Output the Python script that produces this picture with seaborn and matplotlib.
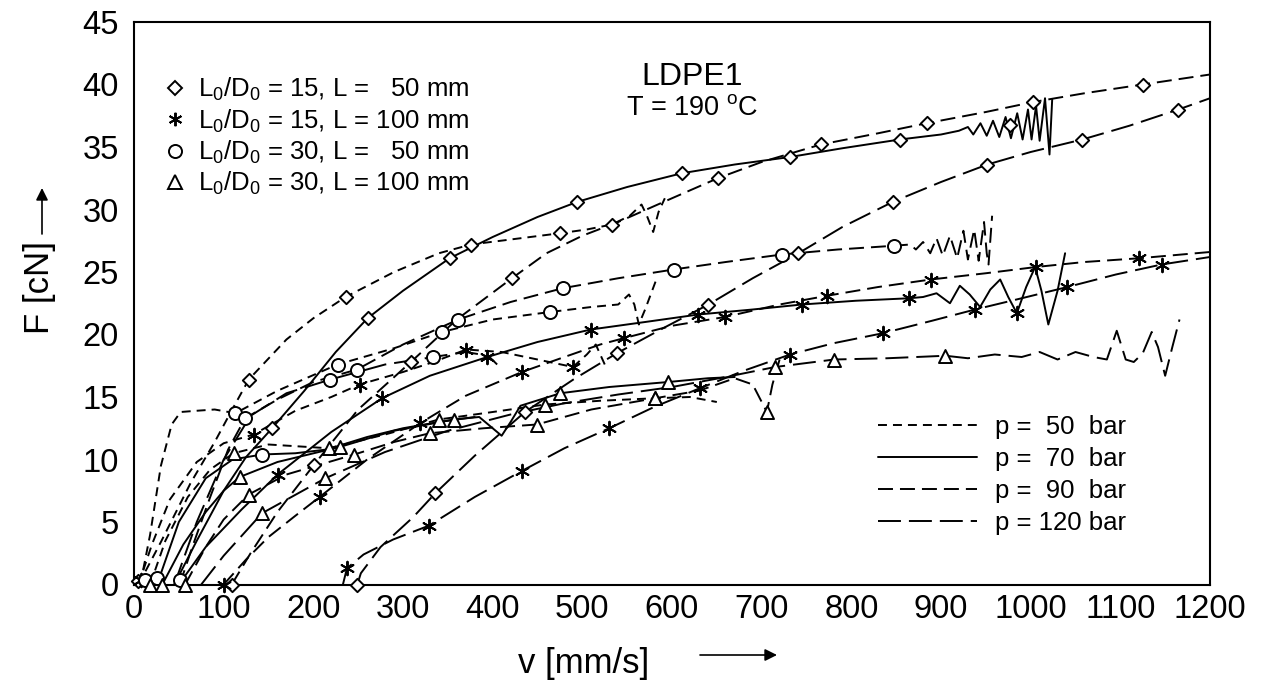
import numpy as np
import pandas as pd
import seaborn as sns
import matplotlib
matplotlib.use("Agg")
import matplotlib.pyplot as plt
from matplotlib.lines import Line2D
from matplotlib.ticker import MultipleLocator

# ---------------- data ----------------
# Diamonds: L0/D0 = 15, L = 50 mm
d50_v = [5, 30, 63, 90, 108, 128, 170, 200, 236, 290, 340, 375.8, 420, 475, 505, 533, 553, 566, 572, 579, 585, 592]
d50_f = [0, 3.4, 8.1, 11.4, 13.8, 16.4, 19.6, 21.3, 23.0, 25.0, 26.5, 27.2, 27.6, 28.1, 28.4, 28.8, 29.5, 30.4, 29.5, 28.2, 29.8, 30.9]
d50_mv = [5, 128, 236, 375.8, 475, 533]
d50_mf = [0.3, 16.4, 23.0, 27.2, 28.1, 28.8]

d70_v = [45, 70, 100, 125, 154, 190, 225, 260.5, 300, 352, 400, 450, 494, 550, 611, 670, 731.7, 790, 854, 900, 920,
         930, 936, 944, 951, 958, 965, 972, 978, 985, 991, 997, 1001, 1006, 1010, 1016, 1021, 1024]
d70_f = [0, 3.5, 7.5, 10.2, 12.5, 15.5, 18.6, 21.3, 23.5, 26.1, 27.8, 29.4, 30.6, 31.8, 32.9, 33.6, 34.2, 34.9, 35.6, 36.0, 36.3,
         36.6, 36.0, 36.9, 35.9, 37.1, 35.8, 37.4, 35.7, 37.7, 35.6, 38.0, 35.6, 38.3, 35.5, 38.9, 34.4, 38.8]
d70_mv = [154, 260.5, 352, 494, 611, 731.7, 854, 977]
d70_mf = [12.5, 21.3, 26.1, 30.6, 32.9, 34.2, 35.6, 36.8]

d90_v = [109, 130, 160, 201, 250, 308.8, 360, 421.5, 460, 500, 540, 600, 651, 700, 766, 830, 884, 950, 1003, 1060, 1125, 1200]
d90_f = [0, 2.5, 5.8, 9.6, 14.0, 17.8, 21.2, 24.5, 26.5, 27.9, 29.0, 30.9, 32.5, 33.8, 35.2, 36.1, 36.9, 37.8, 38.6, 39.3, 40.0, 40.8]
d90_mv = [109, 201, 308.8, 421.5, 651, 766, 884, 1003, 1125]
d90_mf = [0, 9.6, 17.8, 24.5, 32.5, 35.2, 36.9, 38.6, 40.0]

d120_v = [249, 253, 275, 311.5, 336, 380, 436, 490, 538.5, 590, 640.7, 690, 741, 790, 846, 900, 951.7, 1000, 1057.6, 1110, 1164.7, 1200]
d120_f = [0, 0.9, 3.0, 5.4, 7.3, 10.3, 13.8, 16.4, 18.5, 20.5, 22.4, 24.5, 26.5, 28.6, 30.6, 32.2, 33.6, 34.6, 35.6, 36.7, 38.0, 38.9]
d120_mv = [249, 336, 436, 538.5, 640.7, 741, 846, 951.7, 1057.6, 1164.7]
d120_mf = [0, 7.3, 13.8, 18.5, 22.4, 26.5, 30.6, 33.6, 35.6, 38.0]

# Stars: L0/D0 = 15, L = 100 mm
s50_v = [5, 20, 40, 70, 100, 133.4, 180, 220, 251.6, 300, 334, 370.6, 410, 450, 489.5, 505, 515, 525]
s50_f = [0, 3.2, 6.8, 9.8, 11.3, 12.0, 13.9, 15.0, 16.0, 17.0, 17.8, 18.8, 18.6, 18.0, 17.4, 18.4, 19.2, 17.6]
s50_mv = [8, 133.4, 251.6, 370.6, 489.5]
s50_mf = [0.4, 12.0, 16.0, 18.8, 17.4]

s70_v = [50, 80, 120, 160.2, 220, 276.6, 330, 394, 450, 509.5, 570, 629.5, 690, 745, 805, 864.8, 880, 895, 910, 921, 932,
         943.6, 955, 966, 975, 984.6, 995, 1005, 1012, 1019.7, 1030, 1038.4]
s70_f = [0, 3.0, 6.0, 8.8, 12.2, 14.9, 16.7, 18.2, 19.4, 20.4, 21.0, 21.6, 22.0, 22.4, 22.7, 22.9, 23.0, 23.3, 22.5, 23.9, 23.2,
         22.2, 23.6, 24.4, 23.0, 21.7, 23.8, 25.4, 23.5, 20.8, 23.5, 26.5]
s70_mv = [160.2, 276.6, 394, 509.5, 629.5, 745, 864.8, 984.6]
s70_mf = [8.8, 14.9, 18.2, 20.4, 21.6, 22.4, 22.9, 21.7]

s90_v = [100, 125, 150, 180, 207, 260, 319, 370, 432.6, 480, 520, 546, 600, 659, 720, 773, 830, 888.6, 950, 1006, 1060, 1121, 1200]
s90_f = [0, 2.0, 3.8, 5.5, 7.0, 10.0, 12.9, 15.1, 17.0, 18.2, 19.2, 19.7, 20.7, 21.4, 22.4, 23.1, 23.8, 24.4, 24.9, 25.4, 25.8, 26.1, 26.6]
s90_mv = [100, 207, 319, 432.6, 546, 659, 773, 888.6, 1006, 1121]
s90_mf = [0, 7.0, 12.9, 17.0, 19.7, 21.4, 23.1, 24.4, 25.4, 26.1]

s120_v = [233, 237.5, 256, 289, 328.6, 380, 433, 480, 530, 580, 631, 680, 731.7, 780, 835, 890, 938, 990, 1041, 1095, 1146, 1200]
s120_f = [0, 1.3, 2.4, 3.6, 4.7, 7.0, 9.1, 10.9, 12.5, 14.2, 15.7, 17.1, 18.4, 19.3, 20.1, 21.1, 22.0, 22.9, 23.8, 24.8, 25.6, 26.2]
s120_mv = [237.5, 328.6, 433, 530, 631, 731.7, 835, 938, 1041, 1146]
s120_mf = [1.3, 4.7, 9.1, 12.5, 15.7, 18.4, 20.1, 22.0, 23.8, 25.6]

# Circles: L0/D0 = 30, L = 50 mm
c50_v = [7, 18, 30, 42, 52, 70, 90, 113, 160, 227, 290, 343.5, 400, 464, 510, 540, 552, 558, 563, 570, 582]
c50_f = [0, 4, 9.5, 12.8, 13.8, 13.9, 14.0, 13.7, 15.5, 17.6, 18.9, 20.2, 21.2, 21.8, 22.2, 22.4, 23.2, 22.4, 20.8, 22.0, 24.3]
c50_mv = [12, 113, 227, 343.5, 464]
c50_mf = [0.4, 13.7, 17.6, 20.2, 21.8]

c70_v = [25.7, 50, 80, 110, 142.8, 180, 215, 260, 300, 340, 380]
c70_f = [0, 5, 8.5, 10.0, 10.4, 10.5, 10.8, 11.8, 12.5, 13.0, 13.4]
c70_mv = [25.7, 142.8]
c70_mf = [0.5, 10.4]

c90_v = [51, 65, 85, 105, 124, 160, 200, 248.7, 300, 361.6, 420, 478, 540, 601.7, 660, 722.5, 785, 847.6, 865.6,
         872, 880, 888, 895, 902, 910, 918, 925, 930, 937, 942, 948, 951, 953, 957]
c90_f = [0, 3, 7, 10.8, 13.3, 14.8, 16.2, 17.2, 19.2, 21.2, 22.6, 23.7, 24.5, 25.2, 25.8, 26.4, 26.8, 27.1, 27.2,
         26.8, 27.4, 26.5, 27.7, 26.3, 27.9, 26.1, 28.3, 26.0, 28.4, 25.9, 29.0, 26.5, 25.6, 29.5]
c90_mv = [51, 124, 248.7, 361.6, 478, 601.7, 722.5, 847.6]
c90_mf = [0.4, 13.3, 17.2, 21.2, 23.7, 25.2, 26.4, 27.1]

c120_v = [45, 70, 100, 130, 170, 219, 280, 334, 370, 395, 405]
c120_f = [0, 5, 10, 13.5, 15.3, 16.4, 17.6, 18.2, 18.6, 18.3, 17.6]
c120_mv = [219, 334]
c120_mf = [16.4, 18.2]

# Triangles: L0/D0 = 30, L = 100 mm
t50_v = [18, 35, 60, 85, 111, 150, 217, 280, 339.8, 400, 458.6, 520, 581, 620, 650]
t50_f = [0, 3.5, 7, 9.2, 10.5, 11.2, 10.9, 12.0, 13.2, 13.8, 14.4, 14.7, 14.9, 15.0, 14.6]
t50_mv = [18, 111, 217, 339.8, 458.6, 581]
t50_mf = [0, 10.5, 10.9, 13.2, 14.4, 14.9]

t70_v = [31.6, 55, 80, 100, 117.9, 160, 229.3, 290, 356.5, 385, 400, 410, 420, 431, 475.4, 530, 596, 640, 670]
t70_f = [0, 3.2, 5.8, 7.5, 8.6, 9.8, 11.0, 12.3, 13.2, 13.4, 12.5, 11.9, 13.0, 14.3, 15.3, 15.8, 16.2, 16.5, 16.6]
t70_mv = [31.6, 117.9, 229.3, 356.5, 475.4, 596]
t70_mf = [0, 8.6, 11.0, 13.2, 15.3, 16.2]

t90_v = [57, 80, 100, 127.9, 170, 245.7, 290, 329.7, 390, 449.4, 510, 581, 630, 670, 690, 705.8, 712, 720]
t90_f = [0, 3.0, 5.2, 7.2, 8.8, 10.4, 11.4, 12.1, 12.5, 12.8, 14.0, 14.9, 15.5, 16.5, 16.0, 13.8, 16.0, 18.0]
t90_mv = [57, 127.9, 245.7, 329.7, 449.4, 581, 705.8]
t90_mf = [0, 7.2, 10.4, 12.1, 12.8, 14.9, 13.8]

t120_v = [75, 100, 142.8, 213.4, 280, 350, 420, 480, 540, 600, 660, 715, 781, 840, 905, 930, 960, 990, 1010, 1030,
          1050, 1070, 1085, 1096, 1106, 1115, 1125, 1135, 1142, 1150, 1158, 1166]
t120_f = [0, 2.3, 5.7, 8.5, 10.6, 12.3, 13.6, 14.5, 15.2, 15.8, 16.6, 17.4, 18.0, 18.1, 18.3, 18.1, 18.4, 18.2, 18.6, 18.0,
          18.6, 18.2, 18.0, 20.3, 18.0, 17.8, 18.5, 20.2, 19.0, 16.7, 19.0, 21.2]
t120_mv = [142.8, 213.4, 715, 781, 905]
t120_mf = [5.7, 8.5, 17.4, 18.0, 18.3]

series_labels = ["L$_{\\mathregular{0}}$/D$_{\\mathregular{0}}$ = 15, L =   50 mm",
                 "L$_{\\mathregular{0}}$/D$_{\\mathregular{0}}$ = 15, L = 100 mm",
                 "L$_{\\mathregular{0}}$/D$_{\\mathregular{0}}$ = 30, L =   50 mm",
                 "L$_{\\mathregular{0}}$/D$_{\\mathregular{0}}$ = 30, L = 100 mm"]
pressure_labels = ["p =  50  bar", "p =  70  bar", "p =  90  bar", "p = 120 bar"]
x_ticks = list(range(0, 1201, 100))
y_ticks = list(range(0, 46, 5))

# ---------------- styling ----------------
sns.set_theme(style="white")
plt.rcParams["font.family"] = ["Liberation Sans", "DejaVu Sans"]
plt.rcParams["mathtext.fontset"] = "custom"
plt.rcParams["mathtext.rm"] = "Liberation Sans"
plt.rcParams["mathtext.it"] = "Liberation Sans:italic"
for key in ("text.color", "axes.labelcolor", "xtick.color", "ytick.color", "axes.edgecolor"):
    plt.rcParams[key] = "black"

LW = 1.4
styles = {
    50: (0, (4.6, 3.1)),
    70: "-",
    90: (0, (7.7, 3.6)),
    120: (0, (11.8, 4.1)),
}
marker_spec = {
    "D": dict(marker="D", s=46, facecolor="white", edgecolor="black", linewidth=1.4),
    "*": dict(marker=(6, 2, 0), s=95, color="black", linewidth=1.4),
    "o": dict(marker="o", s=88, facecolor="white", edgecolor="black", linewidth=1.4),
    "^": dict(marker="^", s=88, facecolor="white", edgecolor="black", linewidth=1.4),
}

curves = [
    (d50_v, d50_f, d50_mv, d50_mf, 50, "D"),
    (d70_v, d70_f, d70_mv, d70_mf, 70, "D"),
    (d90_v, d90_f, d90_mv, d90_mf, 90, "D"),
    (d120_v, d120_f, d120_mv, d120_mf, 120, "D"),
    (s50_v, s50_f, s50_mv, s50_mf, 50, "*"),
    (s70_v, s70_f, s70_mv, s70_mf, 70, "*"),
    (s90_v, s90_f, s90_mv, s90_mf, 90, "*"),
    (s120_v, s120_f, s120_mv, s120_mf, 120, "*"),
    (c50_v, c50_f, c50_mv, c50_mf, 50, "o"),
    (c70_v, c70_f, c70_mv, c70_mf, 70, "o"),
    (c90_v, c90_f, c90_mv, c90_mf, 90, "o"),
    (c120_v, c120_f, c120_mv, c120_mf, 120, "o"),
    (t50_v, t50_f, t50_mv, t50_mf, 50, "^"),
    (t70_v, t70_f, t70_mv, t70_mf, 70, "^"),
    (t90_v, t90_f, t90_mv, t90_mf, 90, "^"),
    (t120_v, t120_f, t120_mv, t120_mf, 120, "^"),
]

fig = plt.figure(figsize=(12.63, 6.90), dpi=100)
ax = fig.add_axes([134 / 1263, 1 - 584.5 / 690, (1210 - 134) / 1263, (584.5 - 22) / 690])

for v, f, mv, mf, p, mk in curves:
    sns.lineplot(x=v, y=f, ax=ax, color="black", lw=LW, linestyle=styles[p],
                 sort=False, estimator=None, legend=False, zorder=2)
for v, f, mv, mf, p, mk in curves:
    sns.scatterplot(x=mv, y=mf, ax=ax, legend=False, zorder=3, clip_on=False, **marker_spec[mk])

ax.set_xlim(0, 1200)
ax.set_ylim(0, 45)
ax.set_xticks(x_ticks)
ax.set_yticks(y_ticks)
ax.xaxis.set_minor_locator(MultipleLocator(50))
ax.yaxis.set_minor_locator(MultipleLocator(1))
ax.tick_params(axis="both", which="both", direction="in", top=False, right=False,
               colors="black", labelcolor="black")
ax.tick_params(axis="both", which="major", length=12, width=1.2, labelsize=23.5)
ax.tick_params(axis="both", which="minor", length=6.5, width=1.2)
ax.tick_params(axis="x", which="major", pad=7)
ax.tick_params(axis="y", which="major", pad=11)
for sp in ax.spines.values():
    sp.set_visible(True)
    sp.set_color("black")
    sp.set_linewidth(1.5)
ax.set_xlabel("")
ax.set_ylabel("")

# legends
h1 = [Line2D([], [], ls="none", marker="D", markersize=6.8, markerfacecolor="white",
             markeredgecolor="black", markeredgewidth=1.4),
      Line2D([], [], ls="none", marker=(6, 2, 0), markersize=9.7, color="black", markeredgewidth=1.4),
      Line2D([], [], ls="none", marker="o", markersize=9.4, markerfacecolor="white",
             markeredgecolor="black", markeredgewidth=1.4),
      Line2D([], [], ls="none", marker="^", markersize=9.4, markerfacecolor="white",
             markeredgecolor="black", markeredgewidth=1.4)]
leg1 = ax.legend(h1, series_labels, loc="upper left", bbox_to_anchor=(0.0285, 0.904),
                 frameon=False, fontsize=18.5, handlelength=0.8, handletextpad=0.49,
                 labelspacing=0.16, borderpad=0, borderaxespad=0, labelcolor="black")
ax.add_artist(leg1)

h2 = [Line2D([], [], color="black", lw=LW, linestyle=styles[p]) for p in (50, 70, 90, 120)]
ax.legend(h2, pressure_labels, loc="upper left", bbox_to_anchor=(0.6914, 0.3005),
          frameon=False, fontsize=18.5, handlelength=3.85, handletextpad=0.70,
          labelspacing=0.31, borderpad=0, borderaxespad=0, labelcolor="black")

# annotations
ax.text((692 - 134) / 1076, (584.5 - 77) / 562.5, "LDPE1", transform=ax.transAxes,
        ha="center", va="center", fontsize=23, color="black")
ax.text((692 - 134) / 1076, (584.5 - 108) / 562.5, "T = 190 $^{\\mathregular{o}}$C", transform=ax.transAxes,
        ha="center", va="center", fontsize=19.5, color="black")

# axis labels with arrows
fig.text(40 / 1263, 1 - 287 / 690, "F [cN]", rotation=90, ha="center", va="center", fontsize=25, color="black")
fig.text(584 / 1263, 1 - 663 / 690, "v [mm/s]", ha="center", va="center", fontsize=25, color="black")
ax.annotate("", xy=(42, 690 - 188), xytext=(42, 690 - 234), xycoords="figure pixels",
            textcoords="figure pixels",
            arrowprops=dict(arrowstyle="-|>", lw=1.2, color="black", mutation_scale=18, shrinkA=0, shrinkB=0),
            annotation_clip=False)
ax.annotate("", xy=(777, 690 - 655), xytext=(700, 690 - 655), xycoords="figure pixels",
            textcoords="figure pixels",
            arrowprops=dict(arrowstyle="-|>", lw=1.2, color="black", mutation_scale=18, shrinkA=0, shrinkB=0),
            annotation_clip=False)

fig.savefig("out.png", dpi=100)
